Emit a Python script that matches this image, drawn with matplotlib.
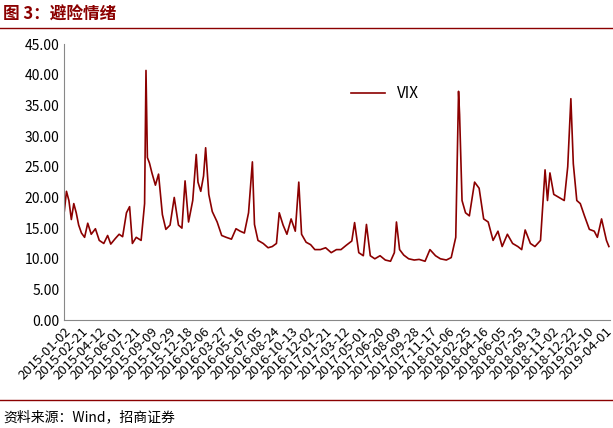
import matplotlib
matplotlib.use("Agg")
import matplotlib.pyplot as plt
import matplotlib.dates as mdates
import pandas as pd

plt.rcParams['font.family'] = ['Noto Sans CJK SC', 'DejaVu Sans']

dates = ["2015-01-02","2015-01-08","2015-01-15","2015-01-22","2015-01-29","2015-02-05","2015-02-12","2015-02-20","2015-03-01","2015-03-10","2015-03-20","2015-04-01","2015-04-12","2015-04-25","2015-05-06","2015-05-15","2015-05-28","2015-06-08","2015-06-18","2015-06-29","2015-07-08","2015-07-16","2015-07-27","2015-08-10","2015-08-20","2015-08-24","2015-08-28","2015-09-03","2015-09-10","2015-09-20","2015-09-29","2015-10-10","2015-10-20","2015-11-01","2015-11-13","2015-11-25","2015-12-05","2015-12-14","2015-12-24","2016-01-05","2016-01-15","2016-01-20","2016-01-28","2016-02-05","2016-02-11","2016-02-20","2016-03-01","2016-03-15","2016-03-28","2016-04-10","2016-04-25","2016-05-08","2016-05-20","2016-06-01","2016-06-13","2016-06-24","2016-06-30","2016-07-10","2016-07-25","2016-08-08","2016-08-20","2016-09-01","2016-09-09","2016-09-20","2016-10-01","2016-10-13","2016-10-25","2016-11-04","2016-11-12","2016-11-25","2016-12-08","2016-12-20","2017-01-05","2017-01-20","2017-02-05","2017-02-20","2017-03-05","2017-03-20","2017-04-05","2017-04-13","2017-04-25","2017-05-08","2017-05-17","2017-05-28","2017-06-10","2017-06-25","2017-07-10","2017-07-25","2017-08-05","2017-08-11","2017-08-20","2017-09-01","2017-09-15","2017-10-01","2017-10-15","2017-11-01","2017-11-15","2017-12-01","2017-12-15","2018-01-01","2018-01-15","2018-01-28","2018-02-05","2018-02-08","2018-02-15","2018-02-25","2018-03-08","2018-03-23","2018-04-05","2018-04-18","2018-05-01","2018-05-15","2018-05-29","2018-06-10","2018-06-25","2018-07-10","2018-07-25","2018-08-05","2018-08-15","2018-08-30","2018-09-12","2018-09-28","2018-10-11","2018-10-18","2018-10-25","2018-11-05","2018-11-20","2018-12-05","2018-12-15","2018-12-24","2018-12-31","2019-01-10","2019-01-20","2019-02-01","2019-02-15","2019-03-01","2019-03-10","2019-03-22","2019-04-05","2019-04-12"]
vix = [17.8,21.0,19.5,16.4,19.0,17.5,15.5,14.2,13.5,15.8,14.0,14.9,13.0,12.5,13.8,12.4,13.3,14.0,13.6,17.5,18.5,12.5,13.5,13.0,19.0,40.7,26.5,25.6,24.0,22.0,23.8,17.2,14.8,15.5,20.0,15.5,15.0,22.7,16.0,19.5,27.0,22.5,21.0,23.5,28.1,20.5,17.7,16.0,13.8,13.5,13.2,14.9,14.5,14.2,17.5,25.8,15.6,13.0,12.5,11.8,12.0,12.5,17.5,15.5,14.0,16.5,14.5,22.5,14.0,12.7,12.3,11.5,11.5,11.8,11.0,11.5,11.5,12.2,12.9,15.9,11.0,10.5,15.6,10.5,10.0,10.5,9.8,9.6,11.0,16.0,11.5,10.6,10.0,9.8,9.9,9.6,11.5,10.5,10.0,9.8,10.2,13.5,37.3,33.5,19.5,17.5,17.0,22.5,21.5,16.5,16.0,13.0,14.5,12.0,14.0,12.5,12.0,11.5,14.7,12.5,12.0,13.0,24.5,19.5,24.0,20.5,20.0,19.5,25.0,36.1,25.5,19.5,19.0,17.0,14.8,14.5,13.5,16.5,13.0,12.0]

ticks = ["2015-01-02","2015-02-21","2015-04-12","2015-06-01","2015-07-21","2015-09-09","2015-10-29","2015-12-18","2016-02-06","2016-03-27","2016-05-16","2016-07-05","2016-08-24","2016-10-13","2016-12-02","2017-01-21","2017-03-12","2017-05-01","2017-06-20","2017-08-09","2017-09-28","2017-11-17","2018-01-06","2018-02-25","2018-04-16","2018-06-05","2018-07-25","2018-09-13","2018-11-02","2018-12-22","2019-02-10","2019-04-01"]

red = "#8B0000"
fig = plt.figure(figsize=(6.13, 4.28), dpi=100)
ax = fig.add_axes([0.105, 0.252, 0.89, 0.645])
d = pd.to_datetime(dates)
ax.plot(d, vix, color=red, lw=1.2, label="VIX")
ax.set_ylim(0, 45)
ax.set_yticks(range(0, 46, 5))
ax.set_yticklabels([f"{v:.2f}" for v in range(0, 46, 5)], fontsize=10)
tk = pd.to_datetime(ticks)
ax.set_xticks(tk)
ax.set_xticklabels(ticks, rotation=45, ha="right", rotation_mode="anchor", fontsize=9.5)
ax.set_xlim(pd.Timestamp("2015-01-02"), pd.Timestamp("2019-04-15"))
for s in ["top", "right"]:
    ax.spines[s].set_visible(False)
ax.spines["left"].set_color("#888888")
ax.spines["bottom"].set_color("#888888")
ax.tick_params(length=0)
ax.legend(loc="upper left", bbox_to_anchor=(0.5, 0.9), frameon=False, fontsize=11, handlelength=2.2)

fig.text(0.005, 0.965, "图 3：避险情绪", color=red, fontsize=12, fontweight="bold", va="center")
fig.add_artist(plt.Line2D([0, 1], [0.935, 0.935], color=red, lw=1))
fig.add_artist(plt.Line2D([0, 1], [0.065, 0.065], color=red, lw=1))
fig.text(0.005, 0.025, "资料来源：Wind，招商证券", fontsize=10, va="center")
fig.savefig("out.png", dpi=100)
